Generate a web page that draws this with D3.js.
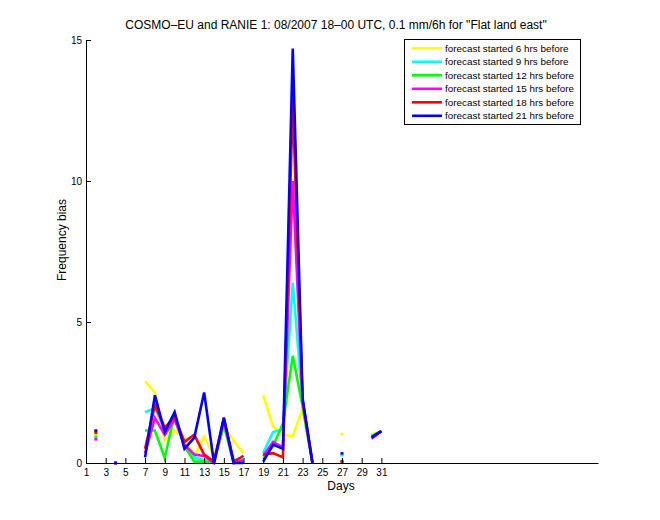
<!DOCTYPE html>
<html><head><meta charset="utf-8">
<script src="https://cdn.jsdelivr.net/npm/d3@7"></script>
<style>body{margin:0;background:#fff}svg{display:block}text{font-family:"Liberation Sans",Arial,Helvetica,sans-serif}</style>
</head><body><svg id="c" width="660" height="520"></svg>
<script>
const days = [1,2,3,4,5,6,7,8,9,10,11,12,13,14,15,16,17,18,19,20,21,22,23,24,25,26,27,28,29,30,31];
const xTicks = [1,3,5,7,9,11,13,15,17,19,21,23,25,27,29,31];
const yTicks = [0,5,10,15];
const seriesNames = ["forecast started 6 hrs before","forecast started 9 hrs before","forecast started 12 hrs before","forecast started 15 hrs before","forecast started 18 hrs before","forecast started 21 hrs before"];
const seriesColors = ["#ffff00","#00ffff","#00ff00","#ff00ff","#ff0000","#0000ff"];
const N = null;
const s6  = [N,1.00,N,N,N,N,2.90,2.50,0.80,1.15,0.90,0.25,0.93,0.25,1.30,0.80,0.35,N,2.40,1.30,1.00,0.95,1.90,0.00,N,N,1.03,N,N,1.00,1.13];
const s9  = [N,1.10,N,0.00,N,N,1.80,1.95,1.15,1.75,0.60,0.20,0.10,0.00,1.45,0.10,0.15,N,0.35,1.10,1.20,6.40,2.10,0.00,N,N,0.28,N,N,0.95,1.13];
const s12 = [N,0.93,N,0.00,N,N,1.15,1.15,0.18,1.75,0.60,0.05,0.05,0.00,1.35,0.00,0.05,N,0.15,0.60,1.40,3.80,2.00,0.00,N,N,0.03,N,N,0.95,1.13];
const s15 = [N,0.84,N,0.00,N,N,0.35,1.60,1.00,1.55,0.65,0.30,0.25,0.00,1.50,0.00,0.10,N,0.25,0.75,0.55,10.0,2.20,0.00,N,N,0.07,N,N,0.86,1.13];
const s18 = [N,1.07,N,0.00,N,N,0.50,2.05,1.25,1.65,0.75,1.00,0.30,0.05,1.60,0.05,0.25,N,0.30,0.35,0.20,12.9,2.20,0.00,N,N,0.05,N,N,0.92,1.13];
const s21 = [N,1.15,N,0.00,N,N,0.20,2.40,1.10,1.80,0.50,0.90,2.50,0.00,1.60,0.00,0.00,N,0.05,0.65,0.50,14.7,2.30,0.00,N,N,0.34,N,N,0.90,1.13];
const seriesValues = [s6,s9,s12,s15,s18,s21];

const svg = d3.select("#c");
const L=86, R=598, T=40, B=463;
const x = d3.scaleLinear().domain([1,53]).range([L,R]);
const y = d3.scaleLinear().domain([0,15]).range([B,T]);

svg.append("text").attr("x",336).attr("y",29).attr("text-anchor","middle")
  .attr("font-size",12).text("COSMO\u2013EU and RANIE 1: 08/2007 18\u201300 UTC, 0.1 mm/6h for \"Flat land east\"");

const plot = svg.append("g");
const line = d3.line().defined(d=>d[1]!=null).x(d=>x(d[0])).y(d=>y(d[1]));
seriesValues.forEach((vals,i)=>{
  const pts = days.map((d,j)=>[d,vals[j]]);
  plot.append("path").attr("d",line(pts)).attr("fill","none")
    .attr("stroke",seriesColors[i]).attr("stroke-width",2.6).attr("stroke-linejoin","miter");
  pts.forEach((p,j)=>{
    if(p[1]==null) return;
    const prev = j>0?vals[j-1]:null, next=j<vals.length-1?vals[j+1]:null;
    if(prev==null && next==null){
      plot.append("rect").attr("x",x(p[0])-1.5).attr("y",y(p[1])-1.3).attr("width",3).attr("height",2.6).attr("fill",seriesColors[i]);
    }
  });
});

// axes
const xa = svg.append("g").attr("transform",`translate(0,${B})`)
  .call(d3.axisBottom(x).tickValues(xTicks).tickSize(-5).tickPadding(4).tickSizeOuter(0));
const ya = svg.append("g").attr("transform",`translate(${L},0)`)
  .call(d3.axisLeft(y).tickValues(yTicks).tickSize(-5).tickPadding(4).tickSizeOuter(0));
[xa,ya].forEach(a=>{
  a.select(".domain").attr("stroke","#000").attr("stroke-width",1);
  a.selectAll(".tick line").attr("stroke","#000");
  a.selectAll(".tick text").attr("font-size",10).attr("fill","#000").attr("font-family",'"Liberation Sans",Arial,sans-serif');
});
xa.selectAll(".tick text").attr("dy","0.9em");

svg.append("text").attr("x",341).attr("y",490).attr("text-anchor","middle").attr("font-size",12).text("Days");
svg.append("text").attr("transform","translate(66,240) rotate(-90)").attr("text-anchor","middle").attr("font-size",12).text("Frequency bias");

// legend
const lg = svg.append("g");
lg.append("rect").attr("x",404.5).attr("y",39.5).attr("width",176).attr("height",85).attr("fill","#fff").attr("stroke","#000");
seriesNames.forEach((n,i)=>{
  const yy = 48.3 + i*13.5;
  lg.append("line").attr("x1",412).attr("x2",442).attr("y1",yy).attr("y2",yy).attr("stroke",seriesColors[i]).attr("stroke-width",2.6);
  lg.append("text").attr("x",445).attr("y",yy+3.4).attr("font-size",9.9).text(n);
});
</script></body></html>
